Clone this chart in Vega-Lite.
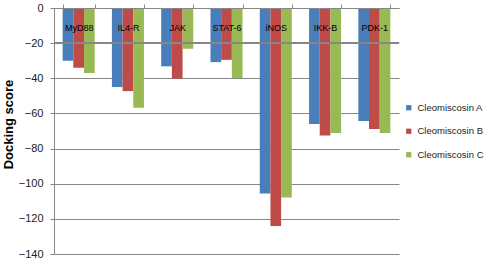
{
  "$schema": "https://vega.github.io/schema/vega-lite/v6.json",
  "width": 345,
  "height": 246,
  "autosize": "none",
  "padding": {"left": 54, "top": 8, "right": 85, "bottom": 9},
  "background": "white",
  "config": {"font": "Liberation Sans", "view": {"stroke": null}},
  "data": {
    "values": [
      {"target": "MyD88", "compound": "Cleomiscosin A", "score": -30},
      {"target": "MyD88", "compound": "Cleomiscosin B", "score": -34},
      {"target": "MyD88", "compound": "Cleomiscosin C", "score": -37},
      {"target": "IL4-R", "compound": "Cleomiscosin A", "score": -45},
      {"target": "IL4-R", "compound": "Cleomiscosin B", "score": -47.3},
      {"target": "IL4-R", "compound": "Cleomiscosin C", "score": -56.7},
      {"target": "JAK", "compound": "Cleomiscosin A", "score": -33.2},
      {"target": "JAK", "compound": "Cleomiscosin B", "score": -40.2},
      {"target": "JAK", "compound": "Cleomiscosin C", "score": -23.2},
      {"target": "STAT-6", "compound": "Cleomiscosin A", "score": -30.8},
      {"target": "STAT-6", "compound": "Cleomiscosin B", "score": -29.5},
      {"target": "STAT-6", "compound": "Cleomiscosin C", "score": -39.9},
      {"target": "iNOS", "compound": "Cleomiscosin A", "score": -105.6},
      {"target": "iNOS", "compound": "Cleomiscosin B", "score": -124},
      {"target": "iNOS", "compound": "Cleomiscosin C", "score": -107.8},
      {"target": "IKK-B", "compound": "Cleomiscosin A", "score": -66},
      {"target": "IKK-B", "compound": "Cleomiscosin B", "score": -72.6},
      {"target": "IKK-B", "compound": "Cleomiscosin C", "score": -71.1},
      {"target": "PDK-1", "compound": "Cleomiscosin A", "score": -64.3},
      {"target": "PDK-1", "compound": "Cleomiscosin B", "score": -68.9},
      {"target": "PDK-1", "compound": "Cleomiscosin C", "score": -71.1}
    ]
  },
  "resolve": {"axis": {"y": "independent"}},
  "layer": [
    {
      "mark": {"type": "bar"},
      "encoding": {
        "x": {
          "field": "target",
          "type": "nominal",
          "sort": null,
          "scale": {"paddingInner": 0.35, "paddingOuter": 0.175},
          "axis": {
            "orient": "top",
            "zindex": 1,
            "title": null,
            "labelAngle": 0,
            "labelBaseline": "middle",
            "labelPadding": -23.5,
            "labelFontSize": 9,
            "labelColor": "#000000",
            "ticks": true,
            "tickBand": "extent",
            "tickSize": 4,
            "tickColor": "#878787",
            "domain": true,
            "domainColor": "#878787",
            "grid": false
          }
        },
        "xOffset": {"field": "compound", "type": "nominal", "scale": {"paddingInner": 0}},
        "y": {
          "field": "score",
          "type": "quantitative",
          "scale": {"domain": [-140, 0], "nice": false},
          "axis": {
            "title": "Docking score",
            "titleFontSize": 13,
            "titleFontWeight": "bold",
            "titleColor": "#000000",
            "titlePadding": 3,
            "titleY": 116,
            "values": [0, -20, -40, -60, -80, -100, -120, -140],
            "labelFontSize": 11,
            "labelColor": "#222222",
            "labelPadding": 7,
            "tickSize": 4,
            "tickColor": "#878787",
            "domainColor": "#878787",
            "grid": true,
            "gridColor": "#878787",
            "gridOpacity": 1
          }
        },
        "color": {
          "field": "compound",
          "type": "nominal",
          "scale": {
            "domain": ["Cleomiscosin A", "Cleomiscosin B", "Cleomiscosin C"],
            "range": ["#4A7EBB", "#BE4B48", "#98B954"]
          },
          "legend": {
            "title": null,
            "orient": "none",
            "legendX": 350,
            "legendY": 95,
            "symbolType": "square",
            "symbolSize": 28,
            "symbolStrokeWidth": 0,
            "labelFontSize": 9.5,
            "labelColor": "#222222",
            "labelOffset": 4,
            "rowPadding": 12.5
          }
        }
      }
    },
    {
      "mark": {"type": "rule", "color": "#878787", "strokeWidth": 1},
      "encoding": {"y": {"datum": -20, "type": "quantitative", "axis": null}}
    }
  ]
}
